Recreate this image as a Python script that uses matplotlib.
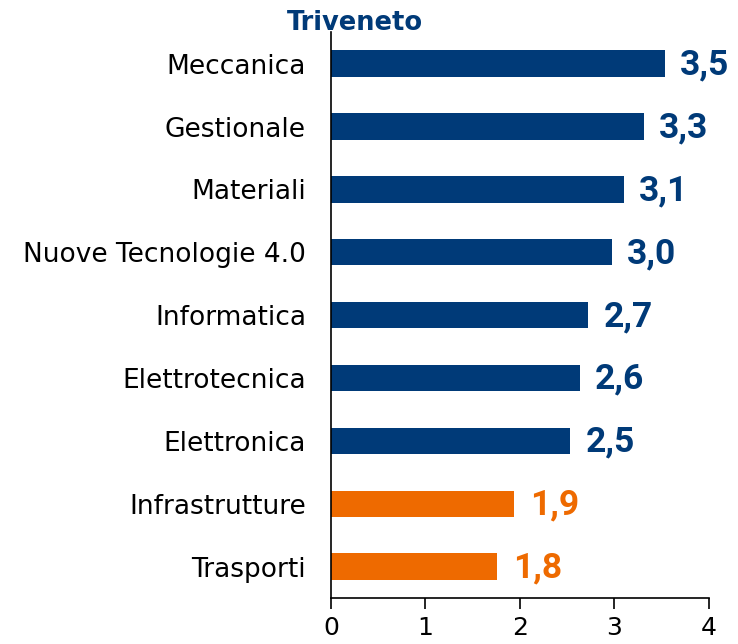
import matplotlib
matplotlib.use('Agg')
import matplotlib.pyplot as plt

# Values
categories = ["Meccanica", "Gestionale", "Materiali", "Nuove Tecnologie 4.0",
              "Informatica", "Elettrotecnica", "Elettronica",
              "Infrastrutture", "Trasporti"]
values = [3.53, 3.31, 3.10, 2.97, 2.72, 2.63, 2.53, 1.94, 1.76]
groups = ["blue"] * 7 + ["orange"] * 2
x_ticks = [0, 1, 2, 3, 4]

NAVY = "#003a78"
ORANGE = "#ee6a00"
COLORS = {"blue": NAVY, "orange": ORANGE}

plt.rcParams['font.family'] = ['DejaVu Sans']

fig = plt.figure(figsize=(7.38, 6.44), dpi=100)
ax = fig.add_axes([0.4485, 0.0714, 0.5122, 0.8786])

pos = list(range(len(categories)))
cols = [COLORS[g] for g in groups]
ax.barh(pos, values, height=0.42, color=cols)

# value labels, italian decimal comma
for p, v, c in zip(pos, values, cols):
    ax.annotate("{:.1f}".format(v).replace(".", ","), (v, p),
                xytext=(11, -1), textcoords="offset points",
                va="center", ha="left", fontsize=25.5, fontweight="bold",
                family="Roboto", color=c)

ax.set_ylim(8.5, -0.5)
ax.set_xlim(0, 4)
ax.set_yticks(pos)
ax.set_yticklabels(categories, fontsize=19)
ax.set_xticks(x_ticks)
ax.set_xticklabels([str(t) for t in x_ticks], fontsize=18)
ax.tick_params(axis="y", length=0, pad=18)
ax.tick_params(axis="x", direction="out", length=8, width=1.2, pad=5)

for s in ["top", "right"]:
    ax.spines[s].set_visible(False)
for s in ["left", "bottom"]:
    ax.spines[s].set_linewidth(1.2)
    ax.spines[s].set_color("black")

fig.text(0.481, 0.965, "Triveneto", ha="center", va="center",
         fontsize=18.5, fontweight="bold", color=NAVY)

fig.savefig("out.png", dpi=100)
plt.close()
